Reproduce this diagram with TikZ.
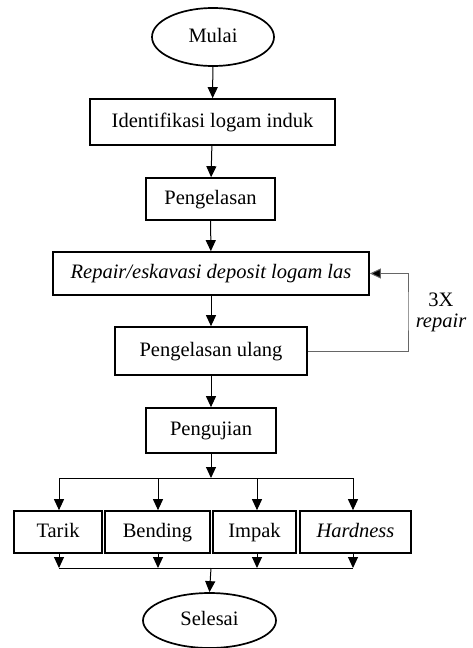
\documentclass[tikz,border=0pt]{standalone}
\usepackage{fontspec}
\setmainfont{Liberation Serif}
\usetikzlibrary{shapes.geometric,arrows.meta}
\begin{document}
\begin{tikzpicture}[x=1pt,y=-1pt,
  font=\fontsize{20.5}{24}\selectfont,
  box/.style={draw,line width=1.7pt,rectangle,inner sep=0pt,text height=14pt,text depth=4pt},
  oval/.style={draw,line width=1.7pt,ellipse,inner sep=0pt,text height=14pt,text depth=4pt},
  arr/.style={line width=1pt,-{Triangle[width=10pt,length=11pt]}},
  ln/.style={line width=1pt},
  loopln/.style={line width=1pt,draw=black!60,-{Triangle[width=10pt,length=11pt,fill=black]}}
]
\useasboundingbox (0,0) rectangle (472,648);
\node[oval,minimum width=122pt,minimum height=58pt] (mulai) at (213,37) {Mulai};
\node[box,minimum width=245pt,minimum height=46pt] (ident) at (212.5,122) {Identifikasi logam induk};
\node[box,minimum width=129pt,minimum height=42pt] (peng) at (210.5,199) {Pengelasan};
\node[box,minimum width=316pt,minimum height=43pt] (repair) at (211,273.5) {\itshape Repair/eskavasi deposit logam las};
\node[box,minimum width=192pt,minimum height=48pt] (ulang) at (211,351) {Pengelasan ulang};
\node[box,minimum width=130pt,minimum height=45pt] (uji) at (211,430.5) {Pengujian};
\node[box,minimum width=88pt,minimum height=42pt] (tarik) at (58,532) {Tarik};
\node[box,minimum width=105pt,minimum height=42pt] (bending) at (157.5,532) {Bending};
\node[box,minimum width=83pt,minimum height=42pt] (impak) at (254.5,532) {Impak};
\node[box,minimum width=111pt,minimum height=42pt] (hard) at (355.5,532) {\itshape Hardness};
\node[oval,minimum width=133pt,minimum height=55pt] (selesai) at (209.5,620.5) {Selesai};
\node (lbla) at (441,300) {3X};
\node (lblb) at (441,323) {\itshape repair};

\coordinate (split) at (211,478);
\coordinate (sA) at (59,478);
\coordinate (sB) at (158,478);
\coordinate (sC) at (257,478);
\coordinate (sD) at (353,478);
\coordinate (bA) at (59,568);
\coordinate (bB) at (158,568);
\coordinate (bC) at (257,568);
\coordinate (bD) at (353,568);
\coordinate (merge) at (211,568);
\coordinate (lp) at (408,310);

\draw[arr] (mulai) -- (ident);
\draw[arr] (ident) -- (peng);
\draw[arr] (peng) -- (repair);
\draw[arr] (repair) -- (ulang);
\draw[arr] (ulang) -- (uji);
\draw[loopln] (ulang.east) -| (lp) |- (repair.east);
\draw[arr] (uji.south) -- (split);
\draw[ln] (sA) -- (sD);
\draw[arr] (sA) -- (sA |- tarik.north);
\draw[arr] (sB) -- (sB |- bending.north);
\draw[arr] (sC) -- (sC |- impak.north);
\draw[arr] (sD) -- (sD |- hard.north);
\draw[arr] (bA |- tarik.south) -- (bA);
\draw[arr] (bB |- bending.south) -- (bB);
\draw[arr] (bC |- impak.south) -- (bC);
\draw[arr] (bD |- hard.south) -- (bD);
\draw[ln] (bA) -- (bD);
\draw[arr] (merge) -- (selesai.north);
\end{tikzpicture}
\end{document}
